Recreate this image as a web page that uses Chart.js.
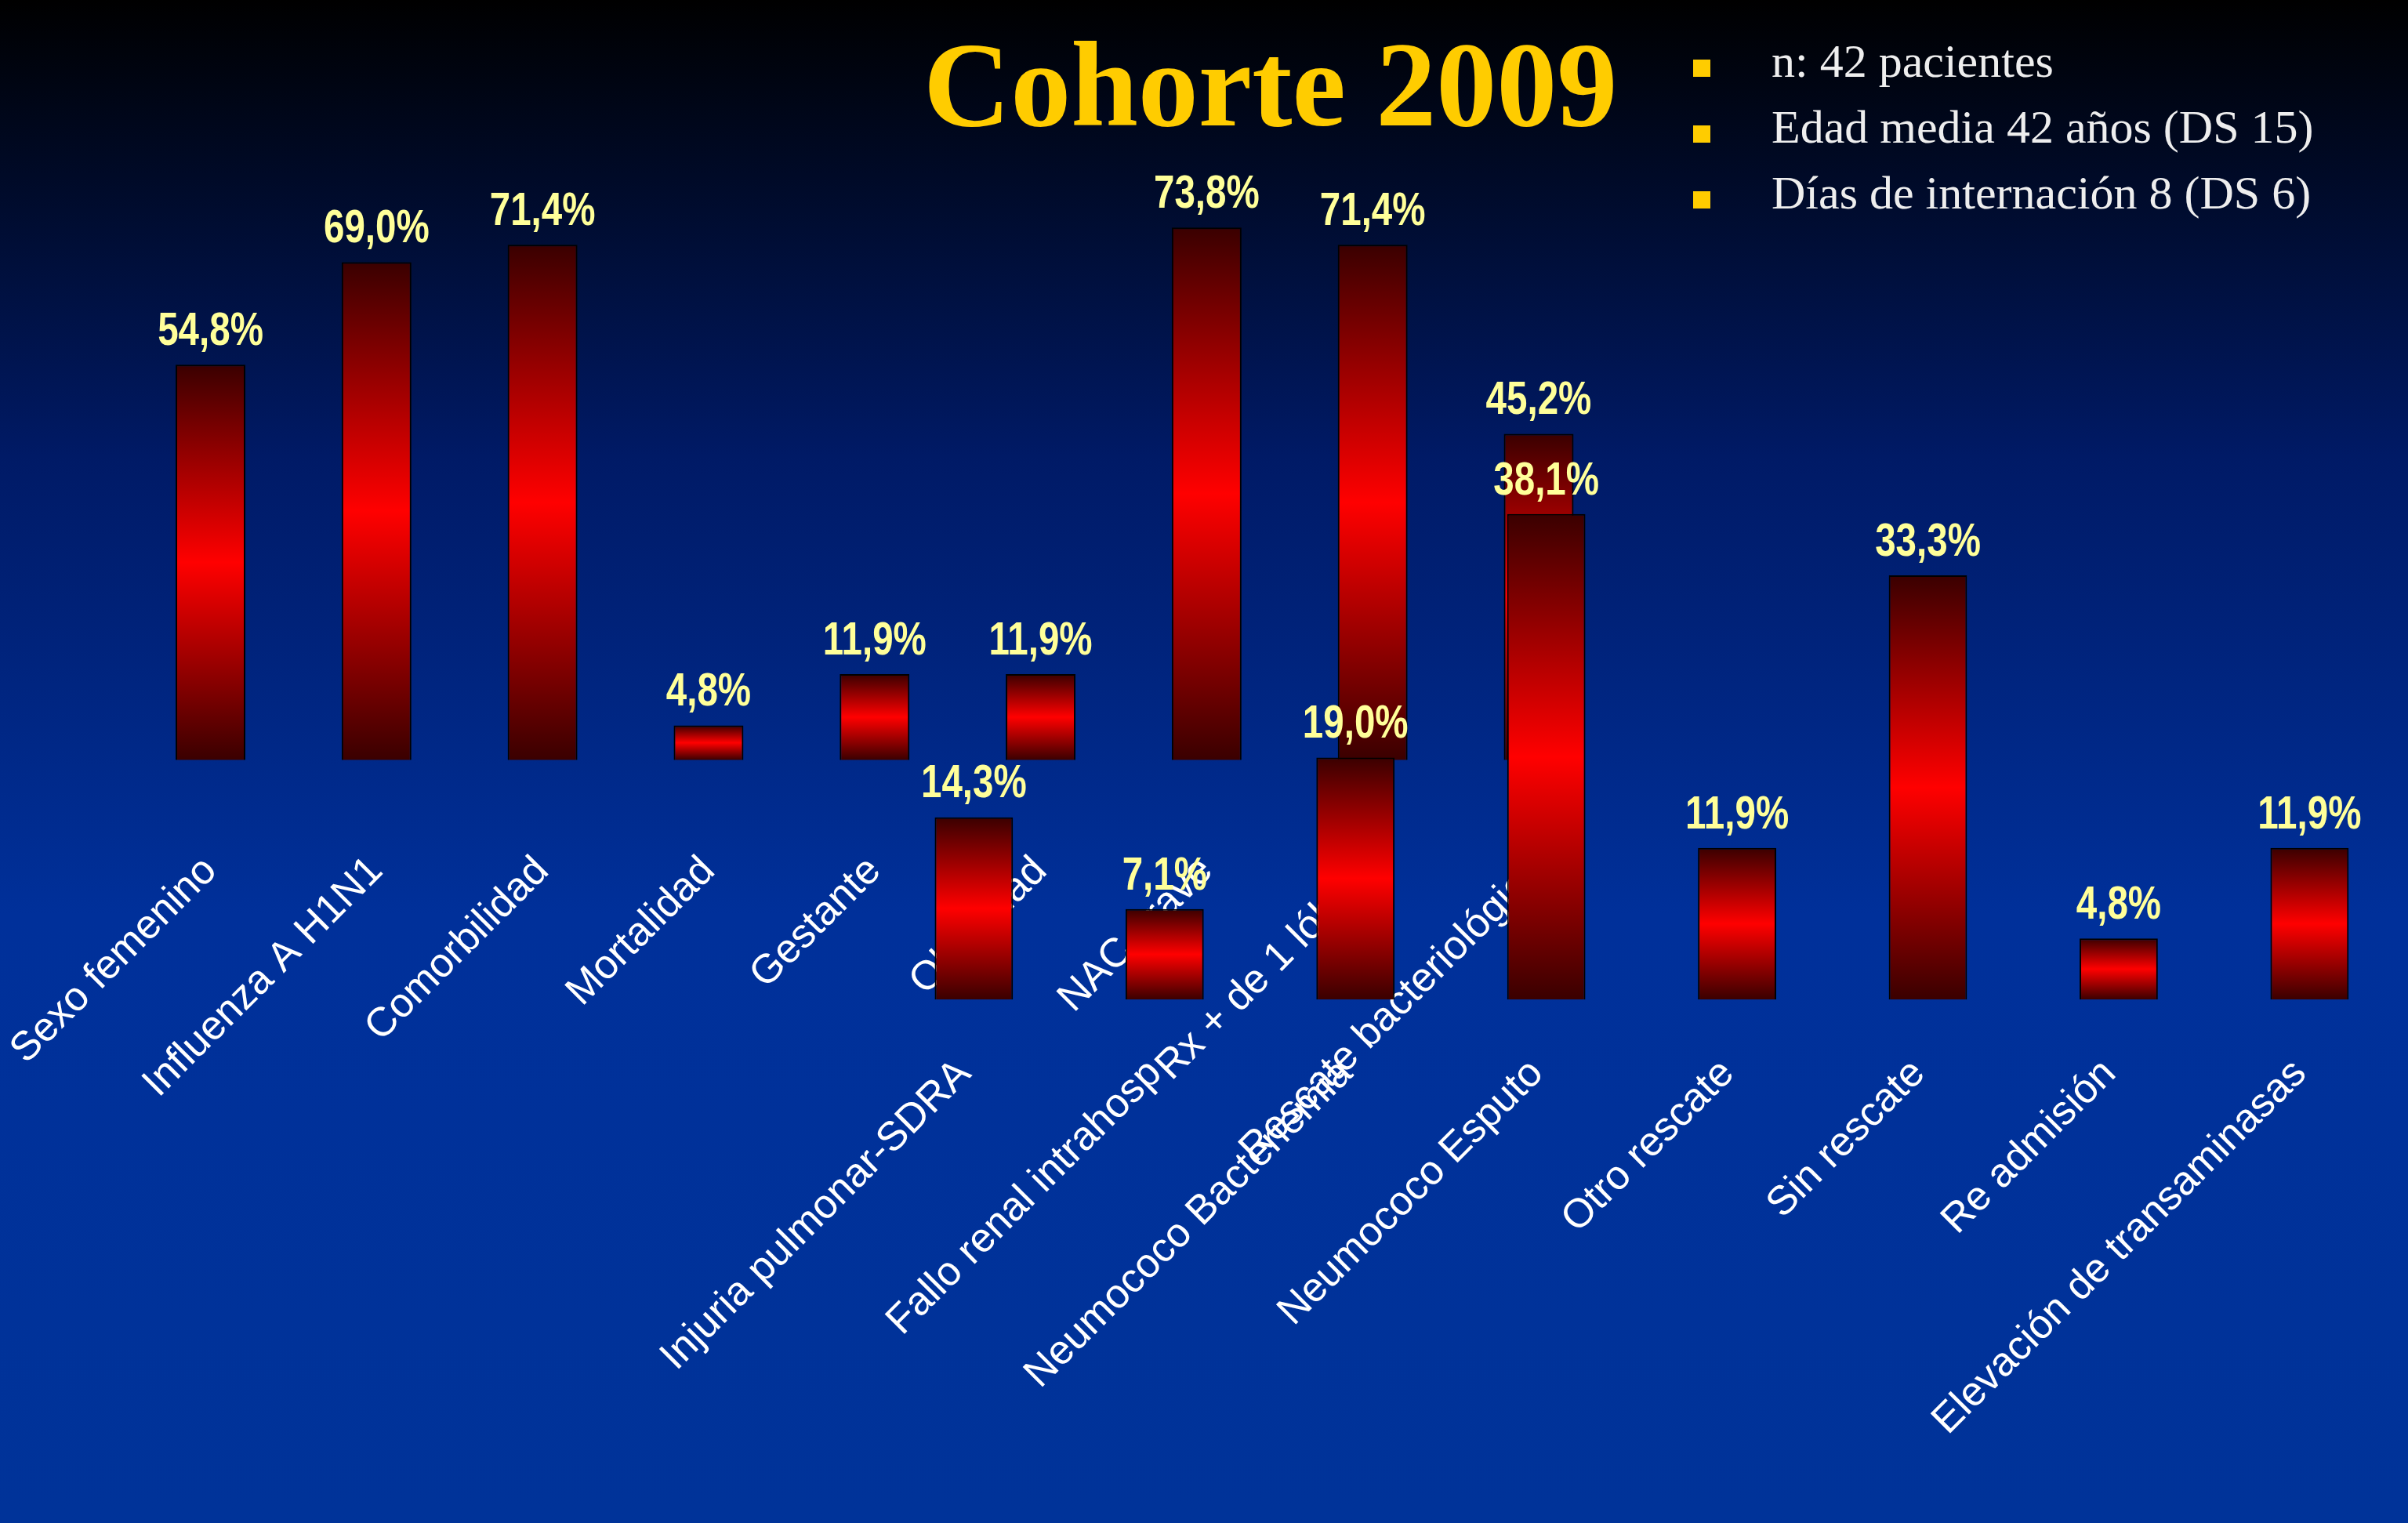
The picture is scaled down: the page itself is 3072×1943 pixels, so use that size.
<!DOCTYPE html>
<html>
<head>
<meta charset="utf-8">
<script src="https://cdn.jsdelivr.net/npm/chart.js@4"></script>
<style>
  html, body { margin: 0; padding: 0; }
  body {
    width: 3072px; height: 1943px; overflow: hidden; position: relative;
    background: linear-gradient(to bottom, #000000 0%, #001a66 30%, #00309a 60%, #003399 100%);
  }
  canvas { position: absolute; left: 0; top: 0; }
  #title {
    position: absolute; left: 1178px; top: 20px;
    font-family: "Liberation Serif", serif; font-weight: bold;
    font-size: 154px; color: #ffcc00; white-space: nowrap;
  }
  #info { position: absolute; left: 2150px; top: 44px; }
  .row {
    position: relative; height: 84px; padding-left: 110px;
    font-family: "Liberation Serif", serif; font-size: 60px; color: #eeeeee; white-space: nowrap;
  }
  .row:before {
    content: ""; position: absolute; left: 10px; top: 32px;
    width: 22px; height: 22px; background: #ffcc00;
  }
</style>
</head>
<body>
<canvas id="c1" width="3072" height="1943"></canvas>
<canvas id="c2" width="3072" height="1943"></canvas>
<div id="title">Cohorte 2009</div>
<div id="info">
  <div class="row">n: 42 pacientes</div>
  <div class="row">Edad media 42 años (DS 15)</div>
  <div class="row">Días de internación 8 (DS 6)</div>
</div>
<script>
const s = 3072 / 1568;

// primer grupo
const labels1 = ['Sexo femenino', 'Influenza A H1N1', 'Comorbilidad', 'Mortalidad', 'Gestante',
  'Obesidad', 'NAC grave', 'Rx + de 1 lóbulo', 'Rescate bacteriológico'];
const values1 = [54.8, 69.0, 71.4, 4.8, 11.9, 11.9, 73.8, 71.4, 45.2];

// segundo grupo
const labels2 = ['Injuria pulmonar-SDRA', 'Fallo renal intrahosp', 'Neumococo Bacteriemia',
  'Neumococo Esputo', 'Otro rescate', 'Sin rescate', 'Re admisión', 'Elevación de transaminasas'];
const values2 = [14.3, 7.1, 19.0, 38.1, 11.9, 33.3, 4.8, 11.9];

function barGradient(ctx) {
  const chart = ctx.chart;
  const y = chart.scales.y;
  if (!y || ctx.raw === undefined) return '#ff0000';
  const top = y.getPixelForValue(ctx.raw);
  const base = y.getPixelForValue(0);
  if (!isFinite(top) || !isFinite(base) || top === base) return '#ff0000';
  const g = chart.ctx.createLinearGradient(0, top, 0, base);
  g.addColorStop(0, '#3a0000');
  g.addColorStop(0.5, '#ff0000');
  g.addColorStop(1, '#3a0000');
  return g;
}

// etiquetas de valor y de categoria
const textPlugin = {
  id: 'textPlugin',
  afterDatasetsDraw(chart, args, opts) {
    const c = chart.ctx;
    const meta = chart.getDatasetMeta(0);
    const data = chart.data.datasets[0].data;
    c.save();
    c.fillStyle = '#ffff99';
    c.font = 'bold 54px "Liberation Sans Narrow", "Liberation Sans", sans-serif';
    c.textAlign = 'center';
    c.textBaseline = 'bottom';
    meta.data.forEach((bar, i) => {
      c.save();
      c.translate(bar.x, bar.y - 12);
      c.scale(0.88, 1.1);
      c.fillText(data[i].toFixed(1).replace('.', ',') + '%', 0, 0);
      c.restore();
    });
    c.fillStyle = '#ffffff';
    c.font = '52px "Liberation Sans", sans-serif';
    c.textAlign = 'right';
    c.textBaseline = 'middle';
    meta.data.forEach((bar, i) => {
      c.save();
      c.translate(bar.x + opts.dx, bar.base + opts.dy);
      c.rotate(-Math.PI / 4);
      c.fillText(chart.data.labels[i], 0, 0);
      c.restore();
    });
    c.restore();
  }
};

function makeChart(id, labels, values, yMax, pad, barPct, lab) {
  return new Chart(document.getElementById(id), {
    type: 'bar',
    data: {
      labels: labels,
      datasets: [{
        data: values,
        backgroundColor: barGradient,
        borderColor: '#000000',
        borderWidth: 2,
        categoryPercentage: 1,
        barPercentage: barPct
      }]
    },
    options: {
      responsive: false,
      animation: false,
      layout: { padding: pad },
      scales: {
        x: { display: false },
        y: { display: false, min: 0, max: yMax }
      },
      plugins: {
        legend: { display: false },
        tooltip: { enabled: false },
        textPlugin: lab
      }
    },
    plugins: [textPlugin]
  });
}

makeChart('c1', labels1, values1, 85,
  { left: 83 * s, right: 512 * s, top: 95.5 * s, bottom: (991.8 - 495) * s },
  0.42, { dx: 0, dy: 68 * s });

makeChart('c2', labels2, values2, 45,
  { left: 572 * s, right: 2 * s, top: 277.5 * s, bottom: (991.8 - 651) * s },
  0.41, { dx: -6 * s, dy: 44 * s });
</script>
</body>
</html>
